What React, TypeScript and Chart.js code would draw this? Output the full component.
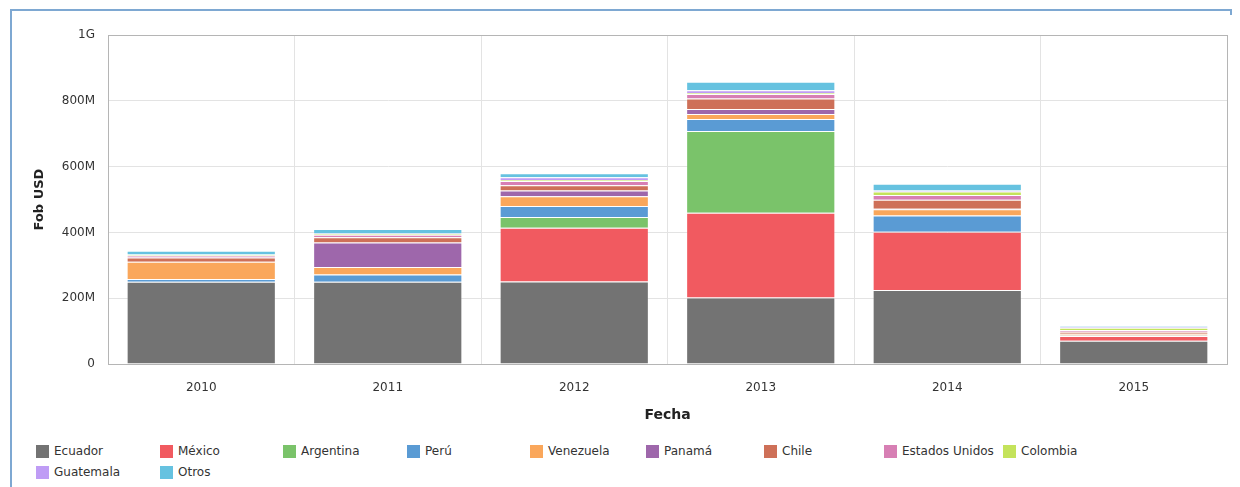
import React, { useEffect, useRef } from "react";
import { Chart, registerables } from "chart.js";

Chart.register(...registerables);

const years = ["2010", "2011", "2012", "2013", "2014", "2015"];
const seriesNames = ["Ecuador", "México", "Argentina", "Perú", "Venezuela", "Panamá", "Chile", "Estados Unidos", "Colombia", "Guatemala", "Otros"];
const seriesColors = ["#737373", "#f15a60", "#7ac36a", "#5a9bd4", "#faa75b", "#9e67ab", "#ce7058", "#d77fb4", "#c4e35b", "#bf9cf5", "#66c2e0"];

// values in millions of USD
const ecuador = [250, 250, 251, 202, 225, 71];
const mexico = [0, 0, 163, 258, 177, 14];
const argentina = [0, 0, 33, 248, 0, 0];
const peru = [8, 22, 33, 37, 49, 2];
const venezuela = [53, 23, 30, 15, 19, 4];
const panama = [0, 74, 17, 15, 2, 1];
const chile = [13, 16, 16, 32, 27, 6];
const estadosUnidos = [6, 8, 13, 14, 15, 5];
const colombia = [3, 2, 3, 3, 10, 7];
const guatemala = [0, 2, 9, 8, 3, 4];
const otros = [11, 13, 12, 26, 21, 3];

const seriesValues = [ecuador, mexico, argentina, peru, venezuela, panama, chile, estadosUnidos, colombia, guatemala, otros];

const yTickMax = 1000;
const yTickStep = 200;

const FONT = "'DejaVu Sans', Verdana, sans-serif";
const legendItemWidths = [124, 123, 124, 123, 116, 118, 120, 119, 121, 124, 124];

const frameBorder = {
  id: "frameBorder",
  afterDraw(chart: any) {
    const { ctx, chartArea } = chart;
    ctx.save();
    ctx.strokeStyle = "#b5b5b5";
    ctx.lineWidth = 1;
    ctx.strokeRect(Math.round(chartArea.left) + 0.5, Math.round(chartArea.top) + 0.5, Math.round(chartArea.right - chartArea.left), Math.round(chartArea.bottom - chartArea.top));
    ctx.restore();
  },
};

export default function App() {
  const ref = useRef<HTMLCanvasElement | null>(null);

  useEffect(() => {
    if (!ref.current) return;
    const chart = new Chart(ref.current, {
      type: "bar",
      data: {
        labels: years,
        datasets: seriesNames.map((name, i) => ({
          label: name,
          data: seriesValues[i],
          backgroundColor: seriesColors[i],
          borderColor: "rgba(255,255,255,0.18)",
          borderWidth: 1,
          barPercentage: 0.8,
          categoryPercentage: 1,
        })),
      },
      options: {
        animation: false,
        responsive: false,
        maintainAspectRatio: false,
        layout: { padding: { left: 28, right: 13, top: 35, bottom: 12 } },
        plugins: {
          legend: { display: false },
          tooltip: { enabled: false },
        },
        scales: {
          x: {
            stacked: true,
            grid: { color: "#e3e3e3", drawTicks: false },
            border: { color: "#b5b5b5" },
            ticks: { color: "#333", font: { family: FONT, size: 12 }, padding: 17 },
            title: { display: true, text: "Fecha", color: "#222", font: { family: FONT, size: 14, weight: "bold" } },
            afterFit(scale: any) {
              scale.height = 64;
            },
          },
          y: {
            stacked: true,
            min: 0,
            max: yTickMax,
            ticks: {
              stepSize: yTickStep,
              color: "#333",
              font: { family: FONT, size: 12 },
              padding: 13,
              callback: (v: any) => (v === 0 ? "0" : v >= 1000 ? v / 1000 + "G" : v + "M"),
            },
            grid: { color: "#e3e3e3", drawTicks: false },
            border: { color: "#b5b5b5" },
            title: { display: true, text: "Fob USD", color: "#222", font: { family: FONT, size: 13, weight: "bold" } },
            afterFit(scale: any) {
              scale.width = 80;
            },
          },
        },
      },
      plugins: [frameBorder],
    });
    return () => chart.destroy();
  }, []);

  return (
    <div style={{ position: "absolute", left: 0, top: 0, width: 1240, height: 487, background: "#fff", overflow: "hidden" }}>
      <div style={{ position: "absolute", left: 10, top: 9, width: 1220, height: 500, borderTop: "2px solid #7ea8d2", borderLeft: "2px solid #7ea8d2" }} />
      <div style={{ position: "absolute", left: 1230, top: 9, width: 2, height: 6, background: "#7ea8d2" }} />
      <canvas ref={ref} width={1240} height={440} style={{ position: "absolute", left: 0, top: 0, width: 1240, height: 440 }} />
      <div style={{ position: "absolute", left: 36, top: 443, width: 1110, display: "flex", flexWrap: "wrap", rowGap: 5 }}>
        {seriesNames.map((name, i) => (
          <div key={name} style={{ width: legendItemWidths[i], height: 16, display: "flex", alignItems: "center", fontFamily: FONT, fontSize: 12, color: "#333", whiteSpace: "nowrap" }}>
            <span style={{ display: "inline-block", width: 13, height: 13, background: seriesColors[i], marginRight: 5, flex: "none" }} />
            {name}
          </div>
        ))}
      </div>
    </div>
  );
}
